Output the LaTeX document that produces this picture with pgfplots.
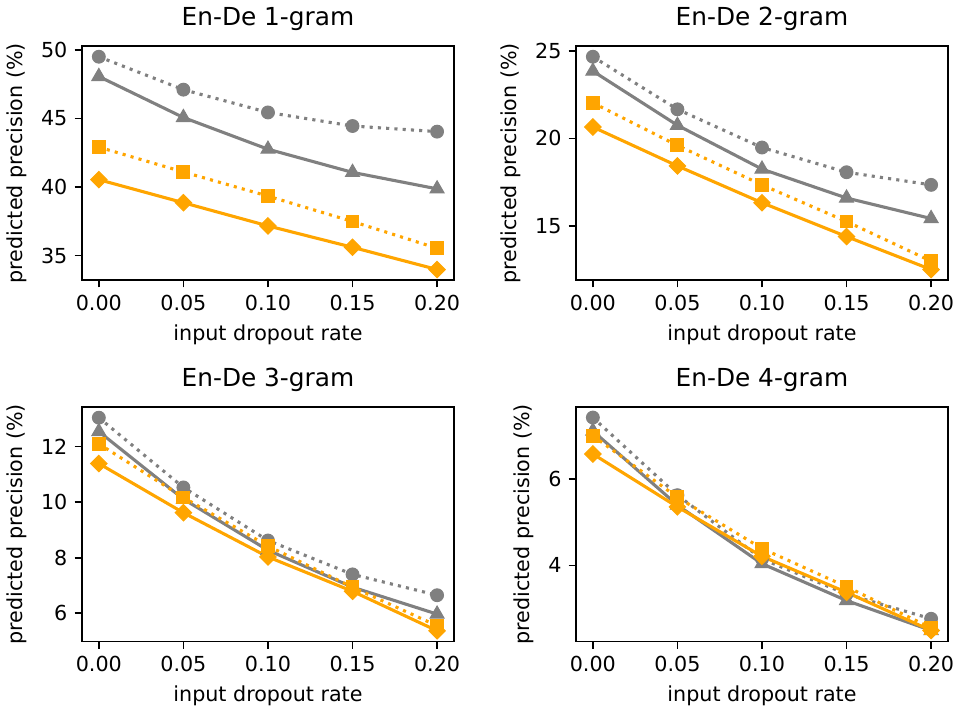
\documentclass[border=0pt]{standalone}
\usepackage{pgfplots}
\pgfplotsset{compat=1.18}
\usepgfplotslibrary{groupplots}
\usepackage{fontspec}
\setmainfont{DejaVu Sans}
\definecolor{mgray}{HTML}{808080}
\definecolor{morange}{HTML}{FFA500}

\pgfplotsset{
  panel/.style={
    scale only axis, width=180pt, height=113.3pt,
    xmin=-0.01, xmax=0.21,
    xtick={0,0.05,0.1,0.15,0.2},
    xticklabels={0.00,0.05,0.10,0.15,0.20},
    axis line style={line width=0.8pt},
    every tick/.style={black, line width=0.8pt},
    tick align=outside, tick pos=left,
    major tick length=3.5pt,
    tick label style={font=\fontsize{10}{12}\selectfont},
    label style={font=\fontsize{10}{12}\selectfont},
    title style={font=\fontsize{12}{14}\selectfont, yshift=-2pt},
    /pgf/number format/assume math mode=true,
    xlabel={input dropout rate},
    ylabel={predicted precision (\%)},
  },
  gdot/.style={mgray, line width=1.5pt, dash pattern=on 1.5pt off 2.5pt,
    mark=*, mark size=3.1pt, mark options={solid, line width=0.5pt}},
  gsol/.style={mgray, line width=1.5pt, mark=triangle*, mark size=3.9pt,
    mark options={solid, line width=0.5pt}},
  odot/.style={morange, line width=1.5pt, dash pattern=on 1.5pt off 2.5pt,
    mark=square*, mark size=3.1pt, mark options={solid, line width=0.5pt}},
  osol/.style={morange, line width=1.5pt, mark=square*, mark size=2.8pt,
    mark options={solid, rotate=45, line width=0.5pt}},
}

\begin{document}
\begin{tikzpicture}
\begin{groupplot}[
  group style={group size=2 by 2, horizontal sep=59pt, vertical sep=61.4pt},
  panel,
]
% En-De 1-gram
\nextgroupplot[title={En-De 1-gram}, ymin=33.2, ymax=50.27, ytick={35,40,45,50}]
\addplot[gdot] coordinates {(0,49.49) (0.05,47.09) (0.1,45.43) (0.15,44.44) (0.2,44.03)};
\addplot[gsol] coordinates {(0,48.05) (0.05,45.06) (0.1,42.75) (0.15,41.06) (0.2,39.86)};
\addplot[odot] coordinates {(0,42.9) (0.05,41.09) (0.1,39.33) (0.15,37.48) (0.2,35.53)};
\addplot[osol] coordinates {(0,40.53) (0.05,38.85) (0.1,37.16) (0.15,35.6) (0.2,33.98)};
% En-De 2-gram
\nextgroupplot[title={En-De 2-gram}, ymin=11.91, ymax=25.27, ytick={15,20,25}]
\addplot[gdot] coordinates {(0,24.66) (0.05,21.66) (0.1,19.48) (0.15,18.07) (0.2,17.35)};
\addplot[gsol] coordinates {(0,23.84) (0.05,20.75) (0.1,18.25) (0.15,16.6) (0.2,15.43)};
\addplot[odot] coordinates {(0,22.03) (0.05,19.6) (0.1,17.35) (0.15,15.26) (0.2,13.0)};
\addplot[osol] coordinates {(0,20.65) (0.05,18.43) (0.1,16.33) (0.15,14.4) (0.2,12.52)};
% En-De 3-gram
\nextgroupplot[title={En-De 3-gram}, ymin=4.99, ymax=13.42, ytick={6,8,10,12}]
\addplot[gdot] coordinates {(0,13.04) (0.05,10.53) (0.1,8.62) (0.15,7.40) (0.2,6.65)};
\addplot[gsol] coordinates {(0,12.54) (0.05,10.11) (0.1,8.27) (0.15,6.94) (0.2,5.97)};
\addplot[odot] coordinates {(0,12.1) (0.05,10.17) (0.1,8.42) (0.15,6.94) (0.2,5.55)};
\addplot[osol] coordinates {(0,11.39) (0.05,9.62) (0.1,8.03) (0.15,6.79) (0.2,5.37)};
% En-De 4-gram
\nextgroupplot[title={En-De 4-gram}, ymin=2.25, ymax=7.65, ytick={4,6}]
\addplot[gdot] coordinates {(0,7.41) (0.05,5.62) (0.1,4.15) (0.15,3.34) (0.2,2.77)};
\addplot[gsol] coordinates {(0,7.1) (0.05,5.39) (0.1,4.04) (0.15,3.19) (0.2,2.5)};
\addplot[odot] coordinates {(0,6.99) (0.05,5.57) (0.1,4.39) (0.15,3.51) (0.2,2.56)};
\addplot[osol] coordinates {(0,6.57) (0.05,5.35) (0.1,4.21) (0.15,3.38) (0.2,2.50)};
\end{groupplot}
\end{tikzpicture}
\end{document}
